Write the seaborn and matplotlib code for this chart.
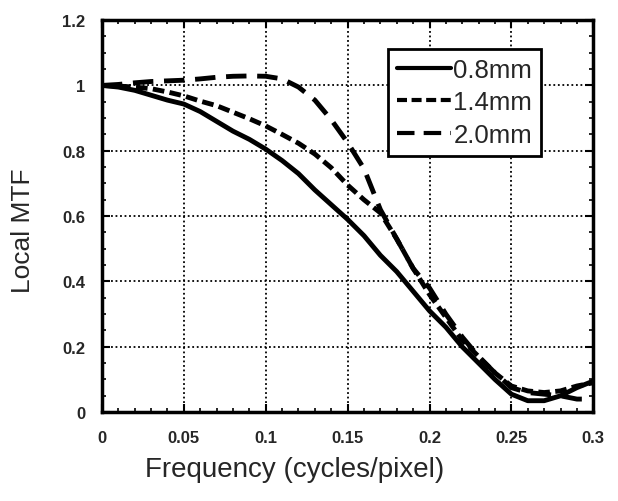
import matplotlib
matplotlib.use('Agg')
import matplotlib.pyplot as plt
import seaborn as sns
import pandas as pd
from matplotlib.ticker import MultipleLocator

freq = [0.00, 0.01, 0.02, 0.03, 0.04, 0.05, 0.06, 0.07, 0.08, 0.09, 0.10,
        0.11, 0.12, 0.13, 0.14, 0.15, 0.16, 0.17, 0.18, 0.19, 0.20,
        0.21, 0.22, 0.23, 0.24, 0.25, 0.26, 0.27, 0.28, 0.29, 0.30]

mtf_08 = [1.000, 0.995, 0.985, 0.970, 0.955, 0.943, 0.920, 0.890, 0.860, 0.835, 0.805,
          0.770, 0.730, 0.680, 0.635, 0.590, 0.540, 0.480, 0.430, 0.370, 0.310,
          0.260, 0.200, 0.150, 0.100, 0.055, 0.035, 0.035, 0.050, 0.075, 0.095]

mtf_14 = [1.000, 0.998, 0.995, 0.990, 0.980, 0.968, 0.952, 0.938, 0.918, 0.898, 0.876,
          0.850, 0.823, 0.790, 0.748, 0.695, 0.650, 0.610, 0.530, 0.440, 0.360,
          0.290, 0.220, 0.170, 0.120, 0.080, 0.065, 0.060, 0.065, 0.080, 0.090]

mtf_20 = [1.000, 1.003, 1.008, 1.012, 1.014, 1.016, 1.020, 1.025, 1.028, 1.029, 1.028,
          1.020, 0.995, 0.955, 0.895, 0.825, 0.745, 0.620, 0.530, 0.440, 0.380,
          0.300, 0.230, 0.170, 0.120, 0.075, 0.060, 0.055, 0.050, 0.040, 0.040]

labels = ['0.8mm', '1.4mm', '2.0mm']

xticks = [0, 0.05, 0.1, 0.15, 0.2, 0.25, 0.3]
xtick_labels = ['0', '0.05', '0.1', '0.15', '0.2', '0.25', '0.3']
yticks = [0, 0.2, 0.4, 0.6, 0.8, 1.0, 1.2]
ytick_labels = ['0', '0.2', '0.4', '0.6', '0.8', '1', '1.2']

sns.set_style('ticks')
plt.rcParams['font.family'] = ['Liberation Sans', 'DejaVu Sans']

df = pd.DataFrame({
    'freq': freq * 3,
    'mtf': mtf_08 + mtf_14 + mtf_20,
    'size': [labels[0]] * len(freq) + [labels[1]] * len(freq) + [labels[2]] * len(freq),
})

fig = plt.figure(figsize=(6.18, 5.02), dpi=100)
ax = fig.add_axes([0.165, 0.177, 0.795, 0.781])

dash_map = {'0.8mm': '', '1.4mm': (2.4, 1.1), '2.0mm': (4.2, 2.2)}
sns.lineplot(data=df, x='freq', y='mtf', style='size', dashes=dash_map,
             color='black', linewidth=3.5, ax=ax, legend=True)

ax.set_xlim(0, 0.3)
ax.set_ylim(0, 1.2)
ax.set_xticks(xticks, xtick_labels)
ax.set_yticks(yticks, ytick_labels)
ax.xaxis.set_minor_locator(MultipleLocator(0.01))
ax.yaxis.set_minor_locator(MultipleLocator(0.05))
ax.tick_params(which='both', direction='in', top=True, right=True, color='black')
ax.tick_params(which='major', length=6, width=1.5, labelsize=12)
ax.tick_params(axis='x', which='major', pad=13)
ax.tick_params(axis='y', which='major', pad=12)
ax.tick_params(which='minor', length=3, width=1.2)
for lab in ax.get_xticklabels() + ax.get_yticklabels():
    lab.set_fontweight('bold')
ax.grid(True, which='major', color='black', linestyle=(0, (1, 1.5)), linewidth=1.3)
for s in ax.spines.values():
    s.set_linewidth(2.5)
    s.set_color('black')

ax.set_xlabel('Frequency (cycles/pixel)', fontsize=20)
ax.set_ylabel('Local MTF', fontsize=19)
ax.xaxis.set_label_coords(0.393, -0.112)
ax.yaxis.set_label_coords(-0.137, 0.466)

leg = ax.legend(loc='upper right', bbox_to_anchor=(0.894, 0.926), fontsize=18.5,
                frameon=True, fancybox=False, edgecolor='black', handlelength=2.1,
                handletextpad=0.1, borderpad=0.35, labelspacing=0.32, borderaxespad=0)
leg.get_frame().set_linewidth(2)
leg.get_frame().set_alpha(1)
for line in leg.get_lines():
    line.set_linewidth(3)

fig.savefig('out.png', dpi=100)
